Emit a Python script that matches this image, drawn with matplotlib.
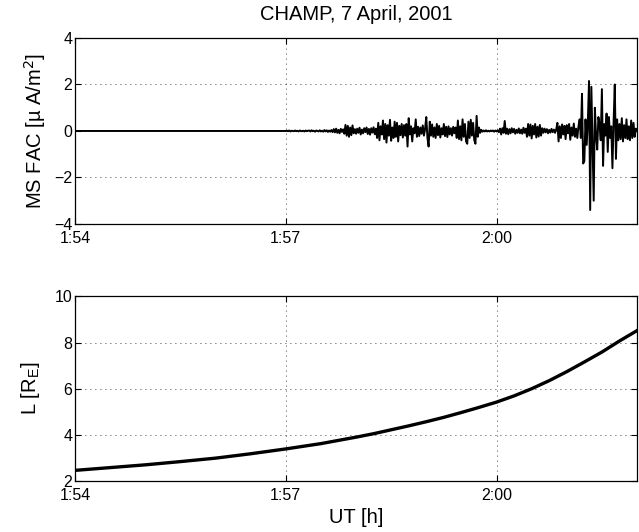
import numpy as np
import matplotlib
matplotlib.use("Agg")
import matplotlib.pyplot as plt

plt.rcParams['font.family'] = ['Liberation Sans', 'DejaVu Sans']

# quiet stretch before the FAC signal starts (flat at zero)
quiet_times = ["1:54:00", "1:57:00"]
quiet_values = [0.0, 0.0]

# MS FAC [uA/m^2], one sample per second from 1:57:00
fac_start = "1:57:00"
fac_step_s = 1.0
fac_values = [
    0.00, 0.01, -0.01, 0.02, -0.02, 0.01, 0.00, -0.01, 0.02, -0.01, 0.01, -0.02, 0.02, 0.00, -0.01, 0.01, -0.02, 0.02, -0.01, 0.01,
    0.02, -0.02, 0.03, -0.01, 0.01, -0.03, 0.02, 0.00, -0.02, 0.03, -0.02, 0.01, -0.03, 0.04, -0.02, 0.03, -0.04, 0.02, -0.03, 0.04,
    -0.05, 0.08, -0.06, 0.10, -0.08, 0.05, -0.10, 0.09, -0.04, 0.07, -0.12, 0.26, -0.20, 0.22, -0.25, 0.15, -0.18, 0.24, -0.10, 0.08,
    -0.12, 0.10, -0.08, 0.14, -0.15, 0.06, -0.10, 0.12, -0.05, 0.15, -0.13, 0.09, -0.16, 0.12, -0.07, 0.16, -0.14, 0.10, -0.30, 0.35,
    -0.40, 0.20, -0.15, 0.45, -0.35, 0.30, -0.50, 0.25, -0.20, 0.48, -0.42, 0.15, -0.30, 0.40, -0.25, 0.35, -0.45, 0.22, -0.18, 0.30,
    -0.28, 0.25, -0.20, 0.30, -0.67, 0.55, -0.15, 0.20, -0.45, 0.12, -0.10, 0.50, -0.25, 0.18, -0.22, 0.15, -0.12, 0.24, -0.20, 0.10,
    0.60, -0.30, -0.67, 0.40, -0.20, 0.28, -0.25, 0.15, -0.30, 0.30, -0.18, 0.22, -0.28, 0.12, -0.15, 0.30, -0.22, 0.18, -0.26, 0.20,
    -0.15, 0.12, -0.20, 0.18, -0.10, 0.15, -0.30, 0.45, -0.35, 0.20, -0.40, 0.50, -0.25, 0.30, -0.45, -0.55, 0.40, -0.30, 0.48, -0.20,
    0.35, -0.40, -0.55, 0.65, -0.25, 0.15, -0.08, 0.05, -0.03, 0.02, -0.02, 0.03, -0.02, 0.01, -0.02, 0.02, -0.01, 0.02, -0.03, 0.02,
    -0.02, 0.03, -0.05, 0.10, -0.15, 0.12, -0.08, 0.43, -0.12, 0.10, -0.14, 0.08, -0.10, 0.12, -0.06, 0.09, -0.12, 0.05, -0.08, 0.11,
    -0.10, 0.06, -0.12, 0.14, -0.08, 0.10, -0.25, 0.30, -0.20, 0.28, -0.32, 0.22, -0.15, 0.30, -0.28, 0.18, -0.24, 0.26, -0.20, 0.12,
    -0.08, 0.10, -0.06, 0.08, -0.10, 0.05, -0.07, 0.09, -0.05, 0.06, -0.08, 0.07, 0.35, -0.45, 0.20, -0.30, 0.28, -0.15, 0.22, -0.35,
    0.25, -0.10, 0.30, -0.38, 0.15, -0.20, 0.32, -0.25, 0.10, -0.30, 0.20, 0.50, -0.30, 1.60, -1.40, -1.30, 0.50, -0.60, 0.40, 2.15,
    -3.40, 1.90, -0.50, -3.00, 1.00, -0.20, -0.80, 0.60, 0.30, -0.40, 1.80, -1.50, 0.30, -0.20, 0.75, -0.90, 0.60, -0.30, 0.20, -1.60,
    0.40, 2.00, -1.20, 0.50, -0.40, 0.30, -0.35, 0.55, -0.45, 0.25, -0.30, 0.50, -0.35, 0.20, -0.40, 0.45, -0.30, 0.35, -0.25, 0.10,
    0.05,
]

# L-shell [R_E] (minutes after 1:54)
l_minutes = [0, 0.5, 1.0, 1.5, 2.0, 2.5, 3.0, 3.5, 4.0, 4.25, 4.5, 4.75, 5.0, 5.25, 5.5, 5.75,
             6.0, 6.25, 6.5, 6.75, 7.0, 7.25, 7.5, 7.75, 8.0]
l_values = [2.46, 2.58, 2.70, 2.84, 2.99, 3.18, 3.39, 3.62, 3.90, 4.05, 4.22, 4.39, 4.57, 4.76, 4.97, 5.19,
            5.42, 5.69, 6.00, 6.35, 6.74, 7.16, 7.59, 8.07, 8.52]

tick_labels = ["1:54", "1:57", "2:00"]


def to_hours(s):
    parts = [int(p) for p in s.split(":")]
    while len(parts) < 3:
        parts.append(0)
    return parts[0] + parts[1] / 60 + parts[2] / 3600


t_quiet = np.array([to_hours(s) for s in quiet_times])
t_fac = to_hours(fac_start) + np.arange(len(fac_values)) * fac_step_s / 3600
t_l = to_hours("1:54") + np.array(l_minutes) / 60
x_ticks = [to_hours(s) for s in tick_labels]
x_lim = (to_hours("1:54"), to_hours("2:02"))


def style_axes(ax):
    ax.set_xlim(*x_lim)
    ax.set_xticks(x_ticks)
    ax.set_xticklabels(tick_labels)
    ax.tick_params(direction='in', top=True, right=True, length=4, width=0.8,
                   labelsize=11.5, pad=2)
    ax.tick_params(axis='x', pad=5)
    ax.grid(True, color='black', linestyle=(0, (1, 5)), linewidth=0.6)
    for sp in ax.spines.values():
        sp.set_linewidth(0.9)


fig = plt.figure(figsize=(6.39, 5.32), dpi=100)

# top panel: MS field-aligned current
ax1 = fig.add_axes([0.1174, 0.579, 0.8795, 0.3496])
ax1.plot(np.concatenate([t_quiet, t_fac]), np.concatenate([quiet_values, fac_values]),
         color='black', linewidth=1.4)
style_axes(ax1)
ax1.set_ylim(-4, 4)
ax1.set_yticks([-4, -2, 0, 2, 4])
ax1.set_yticklabels(["\u22124", "\u22122", "0", "2", "4"])
ax1.set_ylabel("MS FAC [\u00b5 A/m$^2$]", fontsize=14.5, labelpad=4)
ax1.set_title("CHAMP, 7 April, 2001", fontsize=14.5, pad=13)

# bottom panel: L value
ax2 = fig.add_axes([0.1174, 0.0959, 0.8795, 0.3468])
ax2.plot(t_l, l_values, color='black', linewidth=2.4)
style_axes(ax2)
ax2.set_ylim(2, 10)
ax2.set_yticks([2, 4, 6, 8, 10])
ax2.set_ylabel("L [R$_\\mathregular{E}$]", fontsize=14.5, labelpad=9)
ax2.set_xlabel("UT [h]", fontsize=14.5, labelpad=4)

fig.savefig("out.png", dpi=100)
